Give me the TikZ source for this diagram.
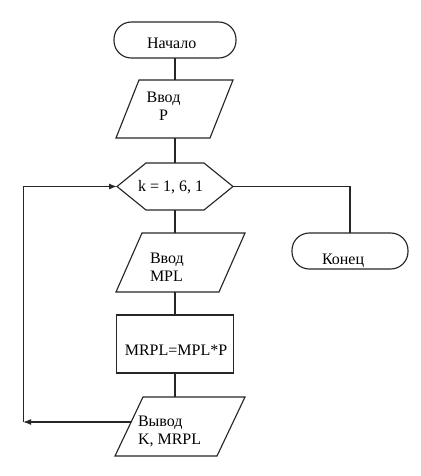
\documentclass[tikz,border=0pt]{standalone}
\usepackage{fontspec}
\setmainfont{Liberation Serif}
\usetikzlibrary{calc,arrows.meta}
\begin{document}
\begin{tikzpicture}[x=0.75pt,y=-0.75pt,
  frame/.style={rectangle,inner sep=0pt,outer sep=0pt},
  ln/.style={draw=black!85,line width=0.85pt},
  lbl/.style={inner sep=0pt,outer sep=0pt,anchor=base west,font=\fontsize{12}{13.5}\selectfont},
  tip/.style={-{Latex[length=6pt,width=4.5pt]}}]
\useasboundingbox (0,0) rectangle (421,476);
% shapes
\node[frame,ln,minimum width=91.5pt,minimum height=27pt,rounded corners=13pt] (start) at (175,40) {};
\node[frame,minimum width=87.75pt,minimum height=43.5pt] (p1) at (174.5,109) {};
\draw[ln] ($(p1.north west)+(23,0)$) -- (p1.north east) -- ($(p1.south east)-(23,0)$) -- (p1.south west) -- cycle;
\node[frame,minimum width=87pt,minimum height=35.25pt] (h) at (175,186.5) {};
\draw[ln] (h.west) -- ($(h.north west)+(29,0)$) -- ($(h.north east)-(29,0)$) -- (h.east) -- ($(h.south east)-(29,0)$) -- ($(h.south west)+(29,0)$) -- cycle;
\node[frame,minimum width=96.75pt,minimum height=44.25pt] (p2) at (180.5,262.5) {};
\draw[ln] ($(p2.north west)+(26,0)$) -- (p2.north east) -- ($(p2.south east)-(26,0)$) -- (p2.south west) -- cycle;
\node[frame,ln,minimum width=87.75pt,minimum height=43.5pt] (r) at (175,344) {};
\node[frame,minimum width=97.5pt,minimum height=44.25pt] (p3) at (180,426.5) {};
\coordinate (p3tl) at ($(p3.north west)+(28,0)$);
\draw[ln] (p3tl) -- (p3.north east) -- ($(p3.south east)-(28,0)$) -- (p3.south west) -- cycle;
\node[frame,ln,minimum width=87pt,minimum height=27pt,rounded corners=13pt] (end) at (350,251) {};
% texts
\node[lbl] (t0) at (147,48) {Начало};
\node[lbl,anchor=base] (t1) at (163.5,102.5) {\begin{tabular}[t]{@{}c@{}}Ввод\\P\end{tabular}};
\node[lbl] (th) at (138,191.5) {k = 1, 6, 1};
\node[lbl] (t2) at (150,263) {\begin{tabular}[t]{@{}l@{}}Ввод\\MPL\end{tabular}};
\node[lbl,anchor=base] (tr) at (176,355) {MRPL=MPL*P};
\node[lbl] (t3) at (138,426) {\begin{tabular}[t]{@{}l@{}}Вывод\\K, MRPL\end{tabular}};
\node[lbl] (te) at (322,264) {Конец};
% connectors
\draw[ln] (start.south) -- (start.south |- p1.north);
\draw[ln] (start.south |- p1.south) -- (h.north);
\draw[ln] (h.south) -- (h.south |- p2.north);
\draw[ln] (h.south |- p2.south) -- (r.north);
\draw[ln] (r.south) -- (r.south |- p3.north);
\draw[ln] (h.east) -| (end.north);
\coordinate (lp) at ($(p3.south west)!0.576!(p3tl)$);
\coordinate (c1) at ($(lp)+(-108,0)$);
\draw[ln,tip] (lp) -- (c1);
\draw[ln,tip] (c1) |- (h.west);
\end{tikzpicture}
\end{document}
